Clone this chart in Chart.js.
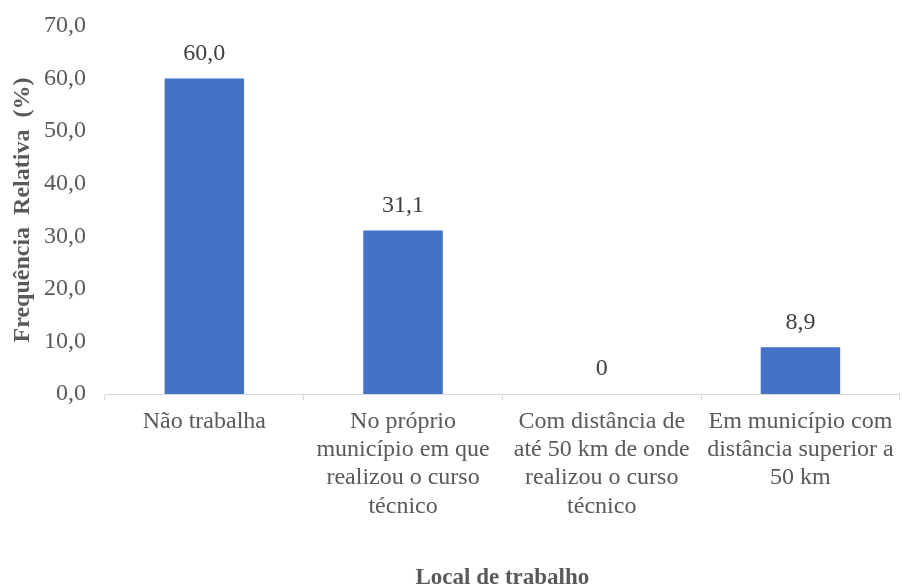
<!DOCTYPE html>
<html>
<head>
<meta charset="utf-8">
<script src="https://cdn.jsdelivr.net/npm/chart.js@4"></script>
<style>
  html, body { margin: 0; padding: 0; background: #fff; }
  #wrap { width: 902px; height: 588px; }
</style>
</head>
<body>
<div id="wrap"><canvas id="chart"></canvas></div>
<script>
// data
const categories = [
    'Não trabalha',
    ['No próprio', 'município em que', 'realizou o curso', 'técnico'],
    ['Com distância de', 'até 50 km de onde', 'realizou o curso', 'técnico'],
    ['Em município com', 'distância superior a', '50 km']
];
const values = [60.0, 31.1, 0, 8.9];
const yTicks = [0, 10, 20, 30, 40, 50, 60, 70];

const FONT = "'Liberation Serif', 'Times New Roman', serif";

// format numbers like the original (comma decimal)
function fmt(v) {
    return v === 0 ? '0' : v.toFixed(1).replace('.', ',');
}

// draw value labels above each bar
const valueLabels = {
    id: 'valueLabels',
    afterDatasetsDraw: function (chart) {
        const ctx = chart.ctx;
        const meta = chart.getDatasetMeta(0);
        ctx.save();
        ctx.font = '24px ' + FONT;
        ctx.fillStyle = '#404040';
        ctx.textAlign = 'center';
        ctx.textBaseline = 'middle';
        meta.data.forEach(function (bar, i) {
            ctx.fillText(fmt(values[i]), bar.x, bar.y - 25);
        });
        ctx.restore();
    }
};

new Chart(document.getElementById('chart').getContext('2d'), {
    type: 'bar',
    data: {
        labels: categories,
        datasets: [{
            data: values,
            backgroundColor: '#4472C4',
            borderWidth: 0,
            categoryPercentage: 1,
            barPercentage: 0.4
        }]
    },
    options: {
        responsive: true,
        maintainAspectRatio: false,
        animation: false,
        layout: { padding: { top: 26, right: 2, bottom: 0, left: 0 } },
        plugins: {
            legend: { display: false },
            tooltip: { enabled: false }
        },
        scales: {
            x: {
                grid: {
                    display: true,
                    drawOnChartArea: false,
                    drawTicks: true,
                    tickLength: 6,
                    color: '#d9d9d9'
                },
                border: { display: true, color: '#d9d9d9', width: 1 },
                ticks: {
                    color: '#595959',
                    padding: 8,
                    maxRotation: 0,
                    autoSkip: false,
                    font: { family: FONT, size: 24, lineHeight: 1.17 }
                },
                title: {
                    display: true,
                    text: 'Local de trabalho',
                    color: '#595959',
                    padding: { top: 0, bottom: 0 },
                    font: { family: FONT, size: 23, weight: 'bold', lineHeight: 0.85 }
                },
                afterFit: function (scale) { scale.height = 194; }
            },
            y: {
                min: 0,
                max: 70,
                afterBuildTicks: function (scale) {
                    scale.ticks = yTicks.map(function (v) { return { value: v }; });
                },
                grid: { display: false, drawTicks: false },
                border: { display: false },
                ticks: {
                    color: '#595959',
                    padding: 19,
                    font: { family: FONT, size: 24 },
                    callback: function (v) { return v.toFixed(1).replace('.', ','); }
                },
                title: {
                    display: true,
                    text: 'Frequência  Relativa  (%)',
                    color: '#595959',
                    padding: { top: 11, bottom: 0 },
                    font: { family: FONT, size: 24, weight: 'bold', lineHeight: 1 }
                },
                afterFit: function (scale) {
                    scale.width = 105;
                    scale.paddingTop = 0;
                    scale.paddingBottom = 0;
                }
            }
        }
    },
    plugins: [valueLabels]
});
</script>
</body>
</html>
